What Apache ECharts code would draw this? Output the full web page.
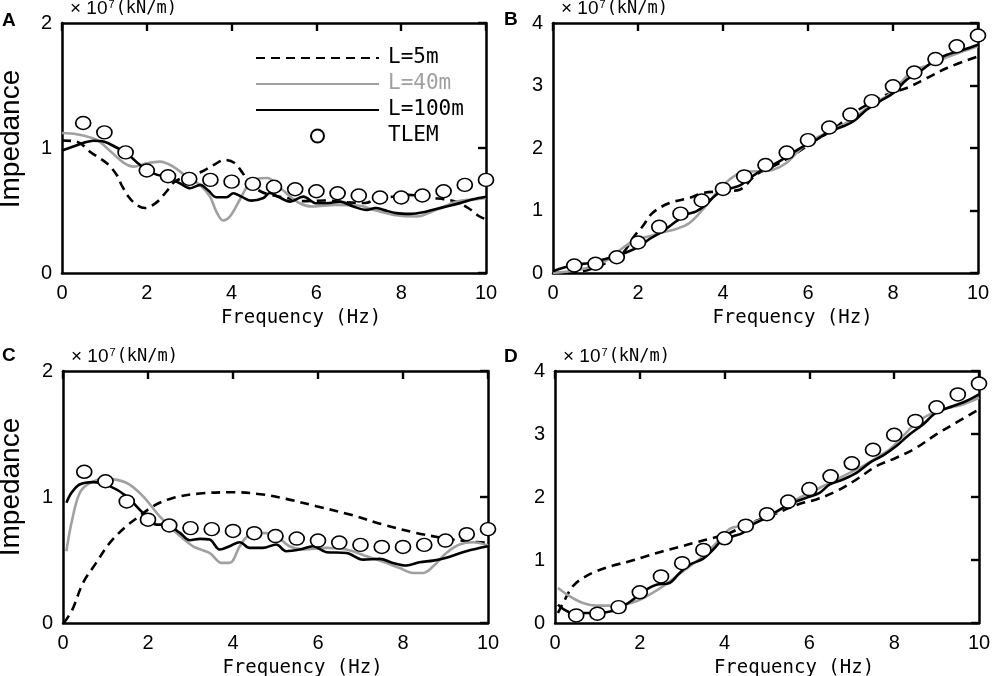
<!DOCTYPE html>
<html>
<head>
<meta charset="utf-8">
<script src="https://cdn.jsdelivr.net/npm/echarts@6/dist/echarts.min.js"></script>
<style>
html, body { margin: 0; padding: 0; background: #fff; }
#chart { width: 992px; height: 676px; }
</style>
</head>
<body>
<div id="chart"></div>
<script>
// frequency of the TLEM points (Hz)
var tlemFreq = [0.5, 1, 1.5, 2, 2.5, 3, 3.5, 4, 4.5, 5, 5.5, 6, 6.5, 7, 7.5, 8, 8.5, 9, 9.5, 10];
// TLEM, panels A and C / panels B and D
var tlemLow = [1.2, 1.125, 0.965, 0.82, 0.774, 0.753, 0.745, 0.731, 0.713, 0.69, 0.67, 0.654, 0.638, 0.62, 0.604, 0.604, 0.62, 0.654, 0.705, 0.745];
var tlemHigh = [0.12, 0.148, 0.252, 0.488, 0.739, 0.95, 1.16, 1.345, 1.545, 1.728, 1.927, 2.126, 2.328, 2.535, 2.75, 2.987, 3.208, 3.423, 3.628, 3.8];

// panel A  [freq, impedance]
var dashA = [[0,1.06],[0.35,1.05],[0.7,0.96],[1.05,0.88],[1.28,0.79],[1.41,0.70],[1.57,0.61],[1.76,0.545],[1.96,0.52],[2.23,0.565],[2.46,0.65],[2.66,0.73],[3.0,0.78],[3.29,0.81],[3.58,0.865],[3.84,0.905],[4.07,0.88],[4.26,0.80],[4.43,0.72],[4.7,0.65],[5.0,0.62],[5.3,0.60],[5.69,0.575],[6.2,0.58],[6.7,0.565],[7.15,0.56],[7.46,0.6],[7.8,0.61],[8.17,0.625],[8.5,0.615],[8.76,0.6],[9.0,0.59],[9.3,0.57],[9.58,0.52],[9.86,0.45],[10,0.43]];
var grayA = [[0,1.12],[0.35,1.11],[0.82,1.064],[1.13,0.978],[1.45,0.883],[1.69,0.851],[2.0,0.878],[2.31,0.891],[2.62,0.851],[2.94,0.771],[3.25,0.705],[3.49,0.611],[3.64,0.492],[3.8,0.42],[3.96,0.452],[4.2,0.59],[4.4,0.705],[4.67,0.758],[4.85,0.76],[5.0,0.73],[5.2,0.665],[5.61,0.558],[5.9,0.532],[6.45,0.545],[7.0,0.54],[7.35,0.505],[7.82,0.465],[8.36,0.452],[8.83,0.505],[9.31,0.571],[9.78,0.59],[10,0.6]];
var blackA = [[0,0.98],[0.25,1.01],[0.5,1.04],[0.74,1.058],[1.0,1.05],[1.25,1.01],[1.53,0.958],[1.75,0.89],[2.0,0.824],[2.25,0.785],[2.47,0.771],[2.78,0.718],[3.02,0.678],[3.18,0.697],[3.26,0.705],[3.45,0.66],[3.64,0.606],[3.88,0.606],[4.04,0.638],[4.23,0.611],[4.47,0.579],[4.75,0.6],[4.9,0.64],[5.1,0.61],[5.38,0.571],[5.69,0.611],[6.0,0.558],[6.3,0.56],[6.56,0.571],[6.87,0.532],[7.18,0.505],[7.4,0.52],[7.58,0.505],[7.88,0.479],[8.2,0.473],[8.6,0.492],[9.0,0.527],[9.39,0.559],[9.7,0.59],[10,0.61]];

// panel B
var dashB = [[0,0],[0.69,0.027],[1.24,0.16],[1.64,0.32],[1.91,0.587],[2.11,0.747],[2.34,0.96],[2.74,1.12],[3.21,1.2],[3.52,1.28],[4.0,1.307],[4.39,1.333],[4.78,1.573],[5.26,1.733],[5.73,1.92],[6.2,2.133],[6.59,2.293],[7.07,2.56],[7.54,2.747],[7.85,2.853],[8.32,2.96],[8.8,3.12],[9.27,3.28],[10,3.467]];
var grayB = [[0,0],[0.61,0.053],[1.16,0.16],[1.64,0.4],[1.95,0.533],[2.27,0.587],[2.58,0.651],[2.9,0.704],[3.21,0.8],[3.52,1.013],[3.84,1.28],[4.15,1.493],[4.47,1.616],[4.78,1.627],[5.18,1.653],[5.49,1.76],[5.81,1.973],[6.12,2.133],[6.51,2.267],[6.83,2.373],[7.14,2.507],[7.54,2.72],[7.85,2.827],[8.17,3.04],[8.48,3.243],[8.8,3.317],[9.11,3.413],[9.58,3.531],[10,3.627]];
var blackB = [[0,0.027],[0.22,0.08],[0.53,0.133],[0.85,0.16],[1.16,0.213],[1.48,0.267],[1.79,0.347],[2.03,0.427],[2.27,0.544],[2.58,0.667],[2.9,0.827],[3.13,0.933],[3.37,0.987],[3.6,1.093],[3.84,1.253],[4.07,1.333],[4.39,1.397],[4.63,1.52],[4.94,1.653],[5.26,1.76],[5.57,1.893],[5.89,2.027],[6.2,2.133],[6.51,2.267],[6.83,2.347],[7.07,2.427],[7.38,2.613],[7.69,2.747],[8.01,2.88],[8.32,3.093],[8.64,3.227],[8.95,3.387],[9.27,3.493],[9.66,3.573],[10,3.653]];

// panel C
var dashC = [[0.02,0],[0.22,0.106],[0.47,0.318],[0.78,0.477],[1.1,0.636],[1.49,0.768],[1.8,0.848],[2.12,0.927],[2.59,0.993],[3.22,1.028],[4.0,1.038],[4.7,1.02],[5.25,0.985],[5.96,0.927],[6.75,0.861],[7.53,0.781],[8.31,0.715],[8.94,0.675],[9.49,0.649],[10,0.636]];
var grayC = [[0.08,0.57],[0.2,0.795],[0.39,1.03],[0.63,1.11],[1.02,1.144],[1.49,1.113],[1.88,1.007],[2.27,0.848],[2.67,0.715],[3.06,0.609],[3.45,0.556],[3.73,0.477],[3.92,0.477],[4.16,0.609],[4.35,0.689],[4.7,0.715],[5.02,0.689],[5.33,0.609],[5.65,0.583],[6.2,0.596],[6.67,0.583],[7.14,0.53],[7.6,0.477],[7.92,0.437],[8.24,0.397],[8.47,0.397],[8.71,0.45],[9.02,0.556],[9.33,0.623],[9.65,0.641],[10,0.615]];
var blackC = [[0.08,0.954],[0.2,1.033],[0.39,1.099],[0.71,1.118],[1.1,1.086],[1.49,1.007],[1.88,0.874],[2.2,0.781],[2.43,0.781],[2.75,0.715],[2.98,0.657],[3.22,0.668],[3.45,0.662],[3.69,0.583],[3.92,0.609],[4.16,0.641],[4.39,0.596],[4.7,0.596],[5.02,0.623],[5.25,0.57],[5.57,0.583],[5.88,0.609],[6.2,0.562],[6.67,0.556],[7.06,0.503],[7.45,0.509],[7.76,0.477],[8.08,0.456],[8.39,0.482],[8.71,0.495],[9.02,0.517],[9.49,0.57],[10,0.609]];

// panel D
var dashD = [[0.07,0.159],[0.19,0.318],[0.42,0.583],[0.66,0.715],[0.97,0.821],[1.37,0.911],[1.76,0.98],[2.15,1.06],[2.55,1.139],[2.94,1.208],[3.33,1.282],[3.73,1.351],[4.12,1.43],[4.4,1.52],[4.7,1.61],[5.06,1.695],[5.53,1.828],[5.85,1.907],[6.16,1.96],[6.64,2.093],[7.11,2.278],[7.58,2.49],[8.05,2.623],[8.52,2.781],[8.99,2.993],[9.46,3.179],[10,3.391]];
var grayD = [[0.07,0.556],[0.35,0.424],[0.66,0.318],[0.97,0.276],[1.29,0.276],[1.6,0.291],[1.92,0.344],[2.23,0.45],[2.55,0.583],[2.86,0.742],[3.18,0.901],[3.49,1.06],[3.81,1.272],[4.12,1.494],[4.43,1.547],[4.75,1.616],[5.06,1.695],[5.38,1.828],[5.69,1.96],[6.01,2.066],[6.32,2.172],[6.64,2.278],[6.95,2.384],[7.26,2.49],[7.58,2.623],[7.89,2.755],[8.21,2.967],[8.52,3.179],[8.84,3.311],[9.15,3.391],[9.62,3.47],[10,3.576]];
var blackD = [[0.07,0.291],[0.19,0.223],[0.42,0.159],[0.82,0.159],[1.21,0.17],[1.53,0.238],[1.84,0.371],[2.15,0.53],[2.39,0.609],[2.7,0.636],[2.94,0.795],[3.18,0.927],[3.49,1.017],[3.73,1.166],[3.96,1.325],[4.2,1.377],[4.43,1.43],[4.67,1.563],[4.98,1.669],[5.3,1.801],[5.61,1.907],[5.93,1.987],[6.24,2.066],[6.48,2.199],[6.79,2.278],[7.11,2.384],[7.42,2.543],[7.74,2.66],[8.05,2.808],[8.36,2.993],[8.68,3.152],[8.99,3.338],[9.39,3.444],[9.7,3.523],[10,3.629]];

var seriesNames = ['L=5m', 'L=40m', 'L=100m', 'TLEM'];
var GRAY = '#a0a0a0';
var MONO = 'DejaVu Sans Mono';
var SANS = 'Liberation Sans';

function pairs(xs, ys) {
    return xs.map(function (x, i) { return [x, ys[i]]; });
}

function frameLine() {
    return { show: true, onZero: false, lineStyle: { color: '#000', width: 2.5 } };
}

// the reference only has ticks on the top and right edges, pointing inwards
function innerTick() {
    return { show: true, inside: true, length: 8, lineStyle: { color: '#000', width: 2.4 } };
}

var option = {
    animation: false,
    backgroundColor: '#fff',
    grid: [], xAxis: [], yAxis: [], series: [],
    legend: {
        orient: 'vertical',
        left: 250, top: 40,
        itemWidth: 123, itemHeight: 13,
        itemGap: 0,
        textStyle: { fontFamily: MONO, fontSize: 21, color: '#000', lineHeight: 26, padding: [0, 0, 0, 4] },
        data: [
            // line entries: hide the symbol, keep the line sample
            { name: 'L=5m', itemStyle: { opacity: 0 } },
            { name: 'L=40m', itemStyle: { opacity: 0 }, textStyle: { color: GRAY } },
            { name: 'L=100m', itemStyle: { opacity: 0 } },
            { name: 'TLEM' }
        ]
    },
    graphic: []
};

// one panel: box = [left, top, width, height]
function addPanel(idx, box, yMax, letter, curves, tlem) {
    // outerBoundsMode none: keep the grid exactly where it is put
    option.grid.push({ left: box[0], top: box[1], width: box[2], height: box[3], show: false, outerBoundsMode: 'none' });

    option.xAxis.push({
        gridIndex: idx, type: 'value', min: 0, max: 10, interval: 2,
        axisLine: frameLine(), axisTick: { show: false }, splitLine: { show: false },
        axisLabel: { fontFamily: SANS, fontSize: 20, color: '#000', margin: 10 },
        name: 'Frequency (Hz)', nameLocation: 'middle', nameGap: 36,
        nameTextStyle: { fontFamily: MONO, fontSize: 19, color: '#000', padding: [0, 0, 0, 54] }
    });
    option.xAxis.push({
        gridIndex: idx, type: 'value', position: 'top', min: 0, max: 10, interval: 2,
        axisLine: frameLine(), axisLabel: { show: false }, splitLine: { show: false },
        axisTick: innerTick()
    });
    option.yAxis.push({
        gridIndex: idx, type: 'value', min: 0, max: yMax, interval: 1,
        axisLine: frameLine(), axisTick: { show: false }, splitLine: { show: false },
        axisLabel: { fontFamily: SANS, fontSize: 20, color: '#000', margin: 10 },
        name: '{x|\u00d7 10}{s|7}{u|(kN/m)}', nameLocation: 'end', nameGap: 4,
        nameTextStyle: {
            align: 'left', padding: [0, 0, 0, 8],
            rich: {
                x: { fontFamily: SANS, fontSize: 19, color: '#000' },
                s: { fontFamily: SANS, fontSize: 11, color: '#000', padding: [0, 1, 9, 1] },
                u: { fontFamily: MONO, fontSize: 17, color: '#000' }
            }
        }
    });
    option.yAxis.push({
        gridIndex: idx, type: 'value', position: 'right', min: 0, max: yMax, interval: 1,
        axisLine: frameLine(), axisLabel: { show: false }, splitLine: { show: false },
        axisTick: innerTick()
    });

    var ax = idx * 2;
    var styles = [
        { color: '#000', width: 2.6, type: [9, 6] },
        { color: GRAY, width: 2.6, type: 'solid' },
        { color: '#000', width: 2.6, type: 'solid' }
    ];
    curves.forEach(function (c, k) {
        option.series.push({
            name: seriesNames[k], type: 'line', xAxisIndex: ax, yAxisIndex: ax,
            data: c, smooth: 0.35, symbol: 'none',
            lineStyle: styles[k], itemStyle: { color: styles[k].color }
        });
    });
    option.series.push({
        name: 'TLEM', type: 'scatter', xAxisIndex: ax, yAxisIndex: ax,
        data: pairs(tlemFreq, tlem), symbol: 'circle', symbolSize: [15, 13], clip: false, z: 5,
        itemStyle: { color: '#fff', borderColor: '#000', borderWidth: 1.6, opacity: 1 }
    });

    option.graphic.push({
        type: 'text', left: letter.x, top: letter.y,
        style: { text: letter.t, font: 'bold 19px ' + SANS, fill: '#000' }
    });
}

addPanel(0, [62, 23, 424, 250], 2, { t: 'A', x: 2, y: 11 }, [dashA, grayA, blackA], tlemLow);
addPanel(1, [553, 23, 425, 250], 4, { t: 'B', x: 504, y: 10 }, [dashB, grayB, blackB], tlemHigh);
addPanel(2, [63, 371, 425, 252], 2, { t: 'C', x: 2, y: 346 }, [dashC, grayC, blackC], tlemLow);
addPanel(3, [555, 371, 424, 252], 4, { t: 'D', x: 504, y: 347 }, [dashD, grayD, blackD], tlemHigh);

// vertical "Impedance" labels of the left column
[139, 487].forEach(function (cy) {
    option.graphic.push({
        type: 'text', x: 11, y: cy, rotation: Math.PI / 2,
        style: { text: 'Impedance', font: '28px ' + SANS, fill: '#000', align: 'center', verticalAlign: 'middle' }
    });
});

var chart = echarts.init(document.getElementById('chart'));
chart.setOption(option);
</script>
</body>
</html>
